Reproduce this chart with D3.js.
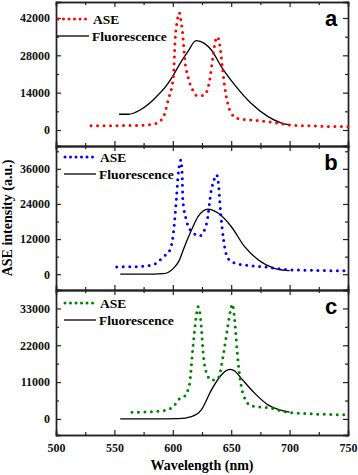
<!DOCTYPE html>
<html>
<head>
<meta charset="utf-8">
<script src="https://cdn.jsdelivr.net/npm/d3@7"></script>
<style>
  body { margin: 0; background: #fff; }
  text { font-family: "Liberation Serif", "Times New Roman", serif; font-weight: bold; }
</style>
</head>
<body>
<div id="chart"></div>
<script>
var width = 358;
var height = 475;
var margin = {left: 56, right: 10};

// panel a
var aseA = [[530,1600],[560,1650],[575,1800],[586,2500],[592,5000],[596,11200],[600.5,20000],[602,33800],[604,41500],[605.5,44000],[607,41000],[608.7,35000],[610,27500],[613,20000],[617,15000],[621,12800],[627,13100],[631.6,18800],[634.4,27500],[636.5,33500],[638,35000],[640,32500],[642.4,23800],[644.4,16300],[647,10000],[650,6300],[655,4400],[665,3800],[680,3200],[690,2500],[700,1900],[720,1500],[750,1250]];
var fluoA = [[554,5900],[562,5900],[572,7500],[586,12500],[595,16900],[600.5,20600],[606,24800],[613,29500],[620,33500],[627,32500],[633,30000],[641.5,23800],[653,16900],[667,10000],[681.5,5000],[692,2800],[700,1900]];

// panel b
var aseB = [[552,2500],[570,2600],[583,3200],[592,6000],[597.6,8300],[600.5,14000],[603,25400],[604.6,34000],[606,38000],[607,39000],[608,34000],[608.6,25400],[611.5,18600],[616,14600],[623,13100],[629,17400],[633,28800],[635.5,32500],[637.5,34000],[639,31100],[641,20800],[643.5,11700],[647,5500],[653,3800],[665,3000],[676,2600],[700,1500],[720,1300],[750,1130]];
var fluoB = [[555,0],[575,0],[592,200],[600.5,2000],[605,4300],[610,9400],[616,15100],[621.6,19700],[626,21600],[630,22200],[634,21900],[639,20800],[650,16300],[661.5,9400],[673,4900],[687,2000],[700,1200]];

// panel c
var aseC = [[565,2000],[580,2100],[592,2500],[600.5,3700],[604.5,5700],[610,6700],[614.4,10600],[617,20500],[620,30500],[621.6,33500],[623,32000],[624.4,27500],[626,19600],[629,13600],[633,11600],[638.7,12100],[643,18600],[647,27500],[649.5,32500],[651,34300],[653,29500],[655,20600],[657,13600],[660,7700],[667,3900],[684,3200],[698.6,2000],[720,1500],[750,1200]];
var fluoC = [[555,0],[580,0],[605,100],[616,700],[624.4,2700],[633,8600],[641.5,13100],[646,14500],[649.5,14800],[653,14300],[658.6,12100],[670,7700],[681.5,4200],[692,2600],[700,2000]];

var xTicks = [500, 550, 600, 650, 700, 750];

var panels = [
  {label: "a", color: "#ff0000", ase: aseA, fluo: fluoA, top: 2, bottom: 146, domain: [-6000, 48000], ticks: [0, 14000, 28000, 42000], step: 7000, legX: 57, legY: 19},
  {label: "b", color: "#0000ff", ase: aseB, fluo: fluoB, top: 146, bottom: 290, domain: [-5400, 43800], ticks: [0, 12000, 24000, 36000], step: 6000, legX: 64, legY: 157},
  {label: "c", color: "#008000", ase: aseC, fluo: fluoC, top: 290, bottom: 435, domain: [-4800, 38500], ticks: [0, 11000, 22000, 33000], step: 5500, legX: 64, legY: 303}
];

var svg = d3.select("#chart").append("svg")
    .attr("width", width)
    .attr("height", height);

var x = d3.scaleLinear()
    .domain([500, 750])
    .range([margin.left, width - margin.right]);

var xMinor = d3.range(525, 750, 50);

panels.forEach(function(p, i) {
  var y = d3.scaleLinear().domain(p.domain).range([p.bottom, p.top]);
  var g = svg.append("g");

  var minorY = d3.range(p.step, p.domain[1], p.step * 2);

  // inward ticks on all four sides
  g.append("g").attr("transform", `translate(0,${p.bottom})`)
    .call(d3.axisBottom(x).tickValues(xTicks).tickSize(-5).tickPadding(8).tickFormat(i == 2 ? d3.format("d") : ""));
  g.append("g").attr("transform", `translate(0,${p.bottom})`)
    .call(d3.axisBottom(x).tickValues(xMinor).tickSize(-3).tickFormat(""));
  g.append("g").attr("transform", `translate(0,${p.top})`)
    .call(d3.axisTop(x).tickValues(xTicks).tickSize(-5).tickFormat(""));
  g.append("g").attr("transform", `translate(0,${p.top})`)
    .call(d3.axisTop(x).tickValues(xMinor).tickSize(-3).tickFormat(""));
  g.append("g").attr("transform", `translate(${margin.left},0)`)
    .call(d3.axisLeft(y).tickValues(p.ticks).tickSize(-5).tickPadding(6).tickFormat(d3.format("d")));
  g.append("g").attr("transform", `translate(${margin.left},0)`)
    .call(d3.axisLeft(y).tickValues(minorY).tickSize(-3).tickFormat(""));
  g.append("g").attr("transform", `translate(${width - margin.right},0)`)
    .call(d3.axisRight(y).tickValues(p.ticks).tickSize(-5).tickFormat(""));
  g.append("g").attr("transform", `translate(${width - margin.right},0)`)
    .call(d3.axisRight(y).tickValues(minorY).tickSize(-3).tickFormat(""));

  g.selectAll(".domain").attr("stroke", "#222").attr("stroke-width", 1.4);
  g.selectAll(".tick line").attr("stroke", "#222").attr("stroke-width", 1.2);
  g.selectAll(".tick text")
    .attr("font-family", "Liberation Serif, serif")
    .attr("font-weight", "bold")
    .attr("font-size", 12)
    .attr("fill", "#111");

  var line = d3.line()
    .x(function(d) { return x(d[0]); })
    .y(function(d) { return y(d[1]); })
    .curve(d3.curveMonotoneX);

  g.append("path")
    .datum(p.fluo)
    .attr("d", line)
    .attr("fill", "none")
    .attr("stroke", "#000")
    .attr("stroke-width", 1.3);

  g.append("path")
    .datum(p.ase)
    .attr("d", line)
    .attr("fill", "none")
    .attr("stroke", p.color)
    .attr("stroke-width", 3)
    .attr("stroke-linecap", "round")
    .attr("stroke-dasharray", "0 6.5");

  // legend
  g.append("line")
    .attr("x1", p.legX + 1).attr("x2", p.legX + 29)
    .attr("y1", p.legY).attr("y2", p.legY)
    .attr("stroke", p.color).attr("stroke-width", 3)
    .attr("stroke-linecap", "round").attr("stroke-dasharray", "0 5.5");
  g.append("text")
    .attr("x", p.legX + 36).attr("y", p.legY + 5)
    .attr("font-size", 13.5)
    .text("ASE");
  g.append("line")
    .attr("x1", p.legX).attr("x2", p.legX + 32)
    .attr("y1", p.legY + 17).attr("y2", p.legY + 17)
    .attr("stroke", "#000").attr("stroke-width", 1.3);
  g.append("text")
    .attr("x", p.legX + 35).attr("y", p.legY + 22)
    .attr("font-size", 13.5)
    .text("Fluorescence");

  g.append("text")
    .attr("x", 331).attr("y", p.top + 24)
    .attr("text-anchor", "middle")
    .style("font-family", "Liberation Sans, Arial, sans-serif")
    .attr("font-size", 22)
    .text(p.label);
});

svg.append("text")
  .attr("x", (margin.left + width - margin.right) / 2)
  .attr("y", 470)
  .attr("text-anchor", "middle")
  .attr("font-size", 14)
  .text("Wavelength (nm)");

svg.append("text")
  .attr("transform", "translate(12,218) rotate(-90)")
  .attr("text-anchor", "middle")
  .attr("font-size", 14)
  .text("ASE intensity (a.u.)");
</script>
</body>
</html>
